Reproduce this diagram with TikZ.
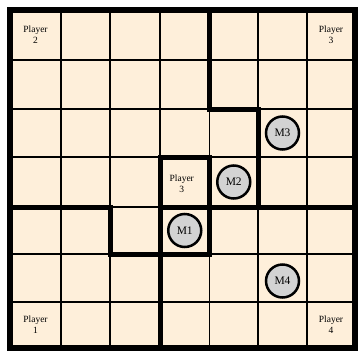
\documentclass[tikz,border=0pt]{standalone}
\usepackage{fontspec}
\setmainfont{Liberation Serif}
\usetikzlibrary{calc}
\definecolor{cream}{RGB}{254,239,218}
\definecolor{mgray}{RGB}{211,211,211}
\begin{document}
\begin{tikzpicture}[x=1pt,y=-1pt,
  gridline/.style={line width=1.8pt,black},
  wall/.style={line width=5pt,black,line cap=rect,line join=miter},
  outerwall/.style={line width=6pt,black,line join=miter},
  monster/.style={circle,draw=black,line width=2.5pt,fill=mgray,minimum size=33pt,inner sep=0pt,font=\fontsize{11.5}{12}\selectfont},
  plabel/.style={align=center,font=\fontsize{9.5}{11}\selectfont,inner sep=0pt}]
\useasboundingbox (0,0) rectangle (358,351);
\foreach \i/\x in {0/10,1/61,2/110,3/160,4/209.5,5/258,6/307,7/355}{
  \foreach \j/\y in {0/10,1/60,2/109,3/157,4/207,5/254,6/302,7/348}{
    \coordinate (p\i\j) at (\x,\y);
  }
}
\fill[cream] (p00) rectangle (p77);
\foreach \i in {1,...,6}{
  \draw[gridline] (p\i0) -- (p\i7);
  \draw[gridline] (p0\i) -- (p7\i);
}
% walls
\draw[wall] (p40) -- (p42) -- (p52) -- (p54);
\draw[wall] (p34) -- (p74);
\draw[wall] (p33) -- (p43) -- (p45) -- (p25) -- (p24) -- (p04);
\draw[wall] (p33) -- (p37);
\draw[outerwall] (p00) rectangle (p77);
% monsters
\node[monster] (m1) at ($(p34)!0.5!(p45)$) {M1};
\node[monster] (m2) at ($(p43)!0.5!(p54)$) {M2};
\node[monster] (m3) at ($(p52)!0.5!(p63)$) {M3};
\node[monster] (m4) at ([yshift=-3pt]$(p55)!0.5!(p66)$) {M4};
% players
\node[plabel] (pl2) at ($(p00)!0.5!(p11)$) {Player\\2};
\node[plabel] (pl3a) at ($(p60)!0.5!(p71)$) {Player\\3};
\node[plabel] (pl3b) at ([xshift=-3pt,yshift=-2pt]$(p33)!0.5!(p44)$) {Player\\3};
\node[plabel] (pl1) at ($(p06)!0.5!(p17)$) {Player\\1};
\node[plabel] (pl4) at ($(p66)!0.5!(p77)$) {Player\\4};
\end{tikzpicture}
\end{document}
